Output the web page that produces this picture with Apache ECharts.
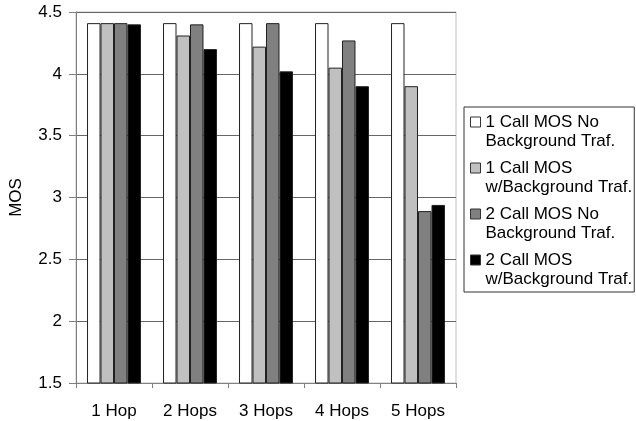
<!DOCTYPE html>
<html>
<head>
<meta charset="utf-8">
<script src="https://cdn.jsdelivr.net/npm/echarts@6/dist/echarts.min.js"></script>
<style>html,body{margin:0;padding:0;background:#fff;}#c{width:636px;height:421px;}</style>
</head>
<body>
<div id="c"></div>
<script>
const categories = ['1 Hop', '2 Hops', '3 Hops', '4 Hops', '5 Hops'];
const seriesNames = [
  '1 Call MOS No\nBackground Traf.',
  '1 Call MOS\nw/Background Traf.',
  '2 Call MOS No\nBackground Traf.',
  '2 Call MOS\nw/Background Traf.'
];
const oneCallNoBg = [4.41, 4.41, 4.41, 4.41, 4.41];
const oneCallBg = [4.41, 4.31, 4.22, 4.05, 3.90];
const twoCallNoBg = [4.41, 4.40, 4.41, 4.27, 2.89];
const twoCallBg = [4.40, 4.20, 4.02, 3.90, 2.94];
const yTicks = { min: 1.5, max: 4.5, interval: 0.5 };

const colors = ['#ffffff', '#c0c0c0', '#808080', '#000000'];
const values = [oneCallNoBg, oneCallBg, twoCallNoBg, twoCallBg];
const FONT = 'Liberation Sans, Arial, sans-serif';

const chart = echarts.init(document.getElementById('c'), null, { renderer: 'canvas' });
chart.setOption({
  animation: false,
  backgroundColor: '#ffffff',
  grid: { left: 75, right: 180, top: 12, bottom: 38, show: true, borderColor: '#c0c0c0', borderWidth: 1 },
  legend: {
    orient: 'vertical',
    left: 464,
    top: 107,
    padding: [5, 2, 3, 6],
    itemGap: 7,
    itemWidth: 10,
    itemHeight: 38,
    icon: 'path://M0,4.5L10,4.5L10,14.5L0,14.5Z M0,0 M10,38',
    itemStyle: { borderColor: '#333', borderWidth: 1 },
    backgroundColor: '#ffffff',
    borderColor: '#333',
    borderWidth: 1,
    borderRadius: 0,
    textStyle: { fontFamily: FONT, fontSize: 17, lineHeight: 19, color: '#000' },
    data: seriesNames
  },
  xAxis: {
    type: 'category',
    data: categories,
    axisLine: { lineStyle: { color: '#808080', width: 1 } },
    axisTick: { show: true, length: 5, lineStyle: { color: '#808080' } },
    axisLabel: { fontFamily: FONT, fontSize: 17, color: '#000', margin: 20 },
    splitLine: { show: false }
  },
  yAxis: {
    type: 'value',
    min: yTicks.min,
    max: yTicks.max,
    interval: yTicks.interval,
    name: 'MOS',
    nameLocation: 'middle',
    nameGap: 51,
    nameTextStyle: { fontFamily: FONT, fontSize: 17, color: '#000' },
    axisLine: { show: true, lineStyle: { color: '#808080', width: 1 } },
    axisTick: { show: true, length: 7, lineStyle: { color: '#808080' } },
    axisLabel: { fontFamily: FONT, fontSize: 17, color: '#000', margin: 14 },
    splitLine: { show: true, lineStyle: { color: '#666666', width: 1 } }
  },
  series: seriesNames.map((name, i) => ({
    name: name,
    type: 'bar',
    data: values[i],
    barGap: '0%',
    barCategoryGap: '29%',
    itemStyle: { color: colors[i], borderColor: '#222', borderWidth: 1 }
  }))
});
</script>
</body>
</html>
